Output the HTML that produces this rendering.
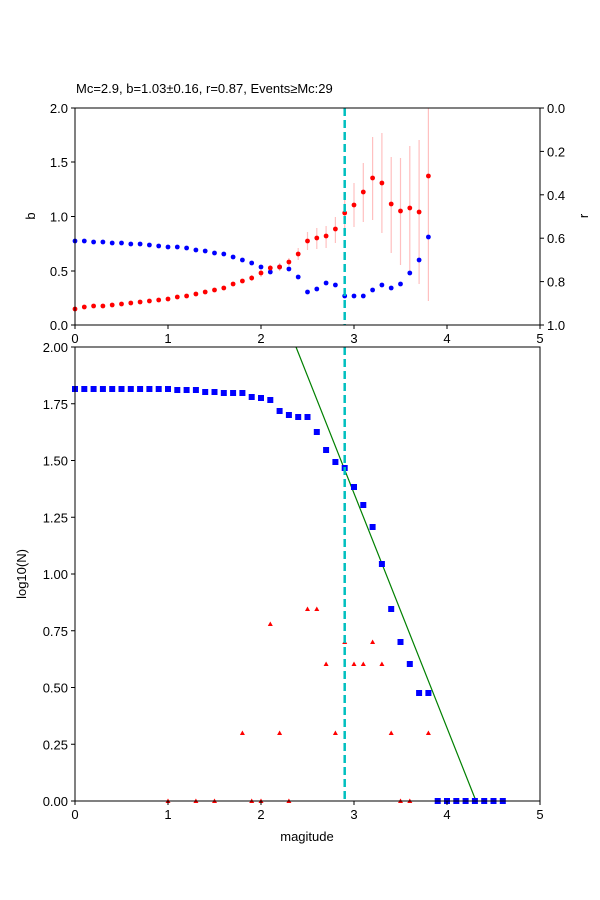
<!DOCTYPE html>
<html><head><meta charset="utf-8"><style>body{margin:0;background:#fff}svg{display:block}text{font-family:"Liberation Sans","DejaVu Sans",sans-serif;font-size:13px;fill:#000}</style></head>
<body>
<svg id="s" width="600" height="900" xmlns="http://www.w3.org/2000/svg">
<rect width="600" height="900" fill="#fff"/>
<text x="76" y="93">Mc=2.9, b=1.03±0.16, r=0.87, Events≥Mc:29</text>
<g id="gtop"></g>
<g id="gbot"></g>
<rect x="75" y="108" width="465" height="217" fill="none" stroke="#000" stroke-width="1"/>
<rect x="75" y="347" width="465" height="454" fill="none" stroke="#000" stroke-width="1"/>
<g stroke="#000" stroke-width="1">
<line x1="75" y1="325" x2="75" y2="329"/><line x1="168" y1="325" x2="168" y2="329"/><line x1="261" y1="325" x2="261" y2="329"/><line x1="354" y1="325" x2="354" y2="329"/><line x1="447" y1="325" x2="447" y2="329"/><line x1="540" y1="325" x2="540" y2="329"/>
<line x1="75" y1="801" x2="75" y2="805"/><line x1="168" y1="801" x2="168" y2="805"/><line x1="261" y1="801" x2="261" y2="805"/><line x1="354" y1="801" x2="354" y2="805"/><line x1="447" y1="801" x2="447" y2="805"/><line x1="540" y1="801" x2="540" y2="805"/>
<line x1="71" y1="108" x2="75" y2="108"/><line x1="71" y1="162" x2="75" y2="162"/><line x1="71" y1="216.5" x2="75" y2="216.5"/><line x1="71" y1="271" x2="75" y2="271"/><line x1="71" y1="325" x2="75" y2="325"/>
<line x1="540" y1="108" x2="544" y2="108"/><line x1="540" y1="151.4" x2="544" y2="151.4"/><line x1="540" y1="194.8" x2="544" y2="194.8"/><line x1="540" y1="238.2" x2="544" y2="238.2"/><line x1="540" y1="281.6" x2="544" y2="281.6"/><line x1="540" y1="325" x2="544" y2="325"/>
<line x1="71" y1="347" x2="75" y2="347"/><line x1="71" y1="403.75" x2="75" y2="403.75"/><line x1="71" y1="460.5" x2="75" y2="460.5"/><line x1="71" y1="517.25" x2="75" y2="517.25"/><line x1="71" y1="574" x2="75" y2="574"/><line x1="71" y1="630.75" x2="75" y2="630.75"/><line x1="71" y1="687.5" x2="75" y2="687.5"/><line x1="71" y1="744.25" x2="75" y2="744.25"/><line x1="71" y1="801" x2="75" y2="801"/>
</g>
<g text-anchor="middle">
<text x="75" y="343">0</text><text x="168" y="343">1</text><text x="261" y="343">2</text><text x="354" y="343">3</text><text x="447" y="343">4</text><text x="540" y="343">5</text>
<text x="75" y="819">0</text><text x="168" y="819">1</text><text x="261" y="819">2</text><text x="354" y="819">3</text><text x="447" y="819">4</text><text x="540" y="819">5</text>
<text x="307" y="841">magitude</text>
</g>
<g text-anchor="end">
<text x="68" y="113">2.0</text><text x="68" y="167">1.5</text><text x="68" y="221.5">1.0</text><text x="68" y="276">0.5</text><text x="68" y="330">0.0</text>
<text x="68" y="352">2.00</text><text x="68" y="408.75">1.75</text><text x="68" y="465.5">1.50</text><text x="68" y="522.25">1.25</text><text x="68" y="579">1.00</text><text x="68" y="635.75">0.75</text><text x="68" y="692.5">0.50</text><text x="68" y="749.25">0.25</text><text x="68" y="806">0.00</text>
</g>
<g>
<text x="547" y="113">0.0</text><text x="547" y="156.4">0.2</text><text x="547" y="199.8">0.4</text><text x="547" y="243.2">0.6</text><text x="547" y="286.6">0.8</text><text x="547" y="330">1.0</text>
</g>
<text transform="translate(35,216) rotate(-90)" text-anchor="middle">b</text>
<text transform="translate(588,216) rotate(-90)" text-anchor="middle">r</text>
<text transform="translate(26,574) rotate(-90)" text-anchor="middle">log10(N)</text>
</svg>
<script>
(function(){
var NS="http://www.w3.org/2000/svg";
function el(p,t,a){var e=document.createElementNS(NS,t);for(var k in a)e.setAttribute(k,a[k]);p.appendChild(e);return e;}
var gT=document.getElementById("gtop"),gB=document.getElementById("gbot");
function X(m){return 75+m*93;}
var blue=[241,241,242,242,243,243,244,244,245,246,247,247,248,250,251,253,254,257,260,263,267,272,267,269,277,292,289,283,285,296,296,296,290,285,288,284,273,260,237];
var red=[309,307,306,306,305,304,303,302,301,300,299,297,296,294,292,290,288,284,281,278,273,268,267,262,254,241,238,236,229,213,205,192,178,183,204,211,208,212,176];
var err={19:[275,281],20:[270,277],21:[265,272],22:[263,271],23:[258,266],24:[248,260],25:[232,250],26:[228,249],27:[226,248],28:[217,243],29:[196,230],30:[183,227],31:[163,222],32:[137,220],33:[133,233],34:[157,253],35:[158,265],36:[146,271],37:[140,284],38:[108,301]};
for(var k in err){var x=X(k/10);el(gT,"line",{x1:x,x2:x,y1:err[k][0],y2:err[k][1],stroke:"#ffc0c0","stroke-width":1.2});}
for(var i=0;i<39;i++){el(gT,"circle",{cx:X(i/10),cy:blue[i],r:2.4,fill:"#0000ff"});el(gT,"circle",{cx:X(i/10),cy:red[i],r:2.4,fill:"#ff0000"});}
el(gT,"line",{x1:X(2.9),x2:X(2.9),y1:108,y2:325,stroke:"#00bfbf","stroke-width":2.5,"stroke-dasharray":"8 4"});
el(gB,"line",{x1:296,y1:347,x2:476,y2:801,stroke:"#008000","stroke-width":1.2});
var sq=[389,389,389,389,389,389,389,389,389,389,389,390,390,390,392,392,393,393,393,397,398,400,411,415,417,417,432,450,462,468,487,505,527,564,609,642,664,693,693,801,801,801,801,801,801,801,801];
for(var i=0;i<sq.length;i++){el(gB,"rect",{x:X(i/10)-3,y:sq[i]-3,width:6,height:6,fill:"#0000ff"});}
var tri={0:[1.0,1.3,1.5,1.9,2.0,2.3,3.5,3.6],733:[1.8,2.2,2.8,3.4,3.8],624:[2.1],609:[2.5,2.6],642:[2.9,3.2],664:[2.7,3.0,3.1,3.3]};
for(var y in tri){var yy=(y==0)?801:+y;tri[y].forEach(function(m){var x=X(m);el(gB,"polygon",{points:(x-2.5)+","+(yy+2)+" "+(x+2.5)+","+(yy+2)+" "+x+","+(yy-2.5),fill:"#ff0000"});});}
el(gB,"line",{x1:X(2.9),x2:X(2.9),y1:347,y2:801,stroke:"#00bfbf","stroke-width":2.5,"stroke-dasharray":"8 4"});
})();
</script>
</body></html>
